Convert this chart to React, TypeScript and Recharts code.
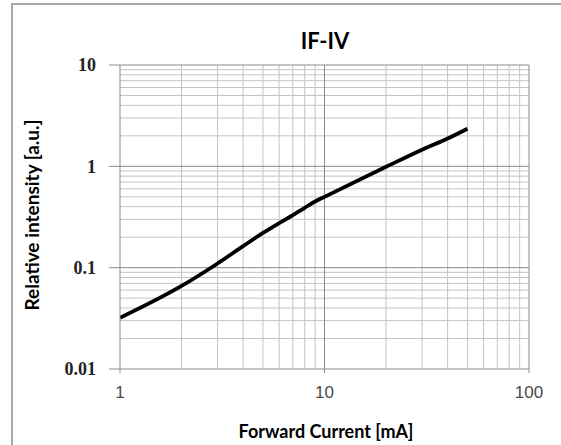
import React from "react"
import { LineChart, Line, XAxis, YAxis, ReferenceLine } from "recharts"

// forward current [mA] and relative intensity [a.u.]
const currents = [1, 2, 3, 4, 5, 6, 7, 8, 9, 10, 20, 30, 40, 50]
const intensity = [0.032, 0.066, 0.11, 0.163, 0.22, 0.275, 0.33, 0.39, 0.45, 0.5, 0.99, 1.46, 1.88, 2.35]

const xTicks = [1, 10, 100]
const yTicks = [0.01, 0.1, 1, 10]

// minor grid values for the log axes
const xMinor = [2, 3, 4, 5, 6, 7, 8, 9, 20, 30, 40, 50, 60, 70, 80, 90]
const yMinor = [
  0.02, 0.03, 0.04, 0.05, 0.06, 0.07, 0.08, 0.09,
  0.2, 0.3, 0.4, 0.5, 0.6, 0.7, 0.8, 0.9,
  2, 3, 4, 5, 6, 7, 8, 9,
]

const chartData = currents.map((c, i) => ({ current: c, intensity: intensity[i] }))

const W = 561
const H = 445

const titleFont = "Lato, sans-serif"

export default function App() {
  return (
    <div style={{ position: "absolute", left: 0, top: 0, width: W, height: H, background: "#fff" }}>
      {/* frame */}
      <div style={{ position: "absolute", left: 11, top: 3, right: 0, height: 2, background: "#a9a9a9" }} />
      <div style={{ position: "absolute", left: 11, top: 3, bottom: 0, width: 2, background: "#a9a9a9" }} />

      <LineChart width={W} height={H} data={chartData} margin={{ top: 65, right: 32, left: 0, bottom: 0 }}>
        <XAxis
          dataKey="current"
          type="number"
          scale="log"
          domain={[1, 100]}
          ticks={xTicks}
          allowDataOverflow
          height={76}
          tickSize={4}
          tickMargin={13}
          stroke="#8a8a8a"
          tick={{ fill: "#4a4a4a", fontSize: 17, fontFamily: "Liberation Sans, Arial, sans-serif" }}
        />
        <YAxis
          type="number"
          scale="log"
          domain={[0.01, 10]}
          ticks={yTicks}
          allowDataOverflow
          width={120}
          tickSize={11}
          tickMargin={13}
          stroke="#8a8a8a"
          tickFormatter={(v) => String(v)}
          tick={{ fill: "#222", fontSize: 18, fontWeight: "bold", fontFamily: "Liberation Serif, Times New Roman, serif" }}
        />
        {xMinor.map((v) => (
          <ReferenceLine key={"xm" + v} x={v} stroke="#c4c4c4" strokeWidth={1} />
        ))}
        {yMinor.map((v) => (
          <ReferenceLine key={"ym" + v} y={v} stroke="#c4c4c4" strokeWidth={1} />
        ))}
        {xTicks.slice(1).map((v) => (
          <ReferenceLine key={"xM" + v} x={v} stroke="#8a8a8a" strokeWidth={1} />
        ))}
        {yTicks.slice(1).map((v) => (
          <ReferenceLine key={"yM" + v} y={v} stroke="#8a8a8a" strokeWidth={1} />
        ))}
        <Line
          dataKey="intensity"
          type="monotone"
          stroke="#000"
          strokeWidth={3.8}
          dot={false}
          isAnimationActive={false}
        />
      </LineChart>

      <div
        style={{
          position: "absolute",
          left: 325,
          top: 40,
          transform: "translate(-50%, -50%)",
          fontFamily: titleFont,
          fontWeight: "bold",
          fontSize: 22,
          color: "#000",
          whiteSpace: "nowrap",
        }}
      >
        IF-IV
      </div>
      <div
        style={{
          position: "absolute",
          left: 326,
          top: 431,
          transform: "translate(-50%, -50%)",
          fontFamily: titleFont,
          fontWeight: "bold",
          fontSize: 18,
          color: "#000",
          whiteSpace: "nowrap",
        }}
      >
        Forward Current [mA]
      </div>
      <div
        style={{
          position: "absolute",
          left: 31,
          top: 215,
          transform: "translate(-50%, -50%) rotate(-90deg)",
          fontFamily: titleFont,
          fontWeight: "bold",
          fontSize: 19,
          color: "#000",
          whiteSpace: "nowrap",
        }}
      >
        Relative intensity [a.u.]
      </div>
    </div>
  )
}
